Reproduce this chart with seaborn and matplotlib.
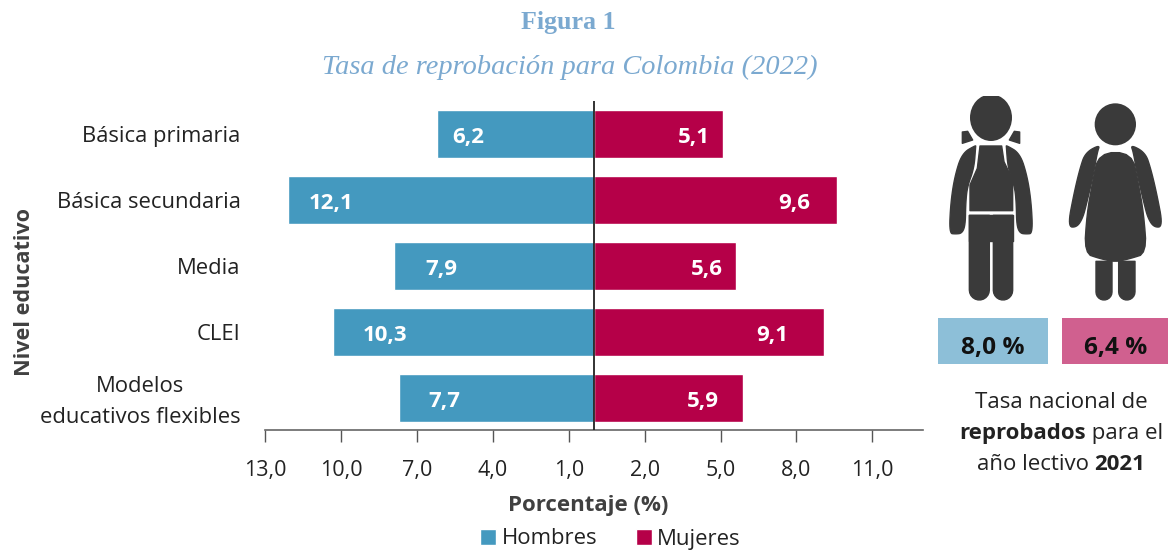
import matplotlib
matplotlib.use("Agg")
import matplotlib.pyplot as plt
import numpy as np
import pandas as pd
import seaborn as sns
from matplotlib.patches import Ellipse, PathPatch, Rectangle
from matplotlib.path import Path
from matplotlib.transforms import ScaledTranslation

niveles = ["Básica primaria", "Básica secundaria", "Media", "CLEI", "Modelos\neducativos flexibles"]
hombres = [6.2, 12.1, 7.9, 10.3, 7.7]
mujeres = [5.1, 9.6, 5.6, 9.1, 5.9]
tick_vals = [-13, -10, -7, -4, -1, 2, 5, 8, 11]
tick_labels = ["13,0", "10,0", "7,0", "4,0", "1,0", "2,0", "5,0", "8,0", "11,0"]
nacional = ["8,0 %", "6,4 %"]

# distance of each value label from the bar end, in data units
offset_h = [1.22, 1.70, 1.86, 2.05, 1.78]
offset_m = [1.15, 1.70, 1.15, 2.05, 1.58]

AZUL, ROJO = "#4499BF", "#B50048"
W, H = 1168, 550
SANS = "Open Sans"

sns.set_theme(style="white")
plt.rcParams["font.family"] = [SANS, "DejaVu Sans"]

df = pd.DataFrame({
    "Nivel": niveles * 2,
    "Valor": [-v for v in hombres] + mujeres,
    "Sexo": ["Hombres"] * 5 + ["Mujeres"] * 5,
})

fig = plt.figure(figsize=(W / 100, H / 100), dpi=100, facecolor="white")
ax = fig.add_axes([265 / W, 1 - 430 / H, (923 - 265) / W, (430 - 101) / H])
sns.barplot(data=df, x="Valor", y="Nivel", hue="Sexo", order=niveles,
            hue_order=["Hombres", "Mujeres"], palette=[AZUL, ROJO], dodge=False,
            width=0.72, saturation=1, orient="y", ax=ax, legend=True)

ax.set_xlim(-13, 13)
ax.set_ylim(4.485, -0.5)
ax.set_xticks(tick_vals, tick_labels)
ax.tick_params(axis="x", length=8.5, width=1.0, color="#555555", labelsize=15.5,
               labelcolor="#222222", pad=13, bottom=True)
ax.tick_params(axis="y", length=0, labelsize=15.8, labelcolor="#222222", pad=17.5)
for lab in ax.get_yticklabels():
    lab.set_multialignment("center")
    lab.set_linespacing(1.6)
last = ax.get_yticklabels()[-1]
last.set_transform(last.get_transform() + ScaledTranslation(0, 3 / 100, fig.dpi_scale_trans))
sns.despine(ax=ax, left=True)
ax.spines["bottom"].set_color("#666666")
ax.spines["bottom"].set_linewidth(1.2)
ax.axvline(0, color="#222222", lw=1.3, zorder=5)
ax.set_xlabel("")
ax.set_ylabel("")

for i in range(len(niveles)):
    ax.text(-hombres[i] + offset_h[i], i + 0.05, f"{hombres[i]:.1f}".replace(".", ","), color="white",
            ha="center", va="center", fontsize=16, fontweight="bold")
    ax.text(mujeres[i] - offset_m[i], i + 0.05, f"{mujeres[i]:.1f}".replace(".", ","), color="white",
            ha="center", va="center", fontsize=16, fontweight="bold")

handles, labels = ax.get_legend_handles_labels()
ax.legend(handles, labels, ncol=2, loc="center", bbox_to_anchor=(610.5 / W, 1 - 539 / H),
          bbox_transform=fig.transFigure, frameon=False, fontsize=15.9, handlelength=0.72,
          handleheight=0.72, handletextpad=0.25, columnspacing=1.75, labelcolor="#222222",
          borderpad=0, borderaxespad=0)

# overlay in pixel coordinates for titles, side panel and pictograms
ov = fig.add_axes([0, 0, 1, 1], zorder=10)
ov.set_xlim(0, W)
ov.set_ylim(H, 0)
ov.axis("off")
ov.patch.set_alpha(0)

ov.text(568, 23, "Figura 1", ha="center", va="center", family="Liberation Serif",
        fontweight="bold", fontsize=18.7, color="#7BA9D0")
ov.text(570, 67, "Tasa de reprobación para Colombia (2022)", ha="center", va="center",
        family="Liberation Serif", style="italic", fontsize=20.4, color="#7BA9D0")
ov.text(588, 505, "Porcentaje (%)", ha="center", va="center", fontweight="bold",
        fontsize=16, color="#404040")
ov.text(25, 292, "Nivel educativo", ha="center", va="center", rotation=90, fontweight="bold",
        fontsize=15.6, color="#404040")

ov.add_patch(Rectangle((938, 318), 110, 46, fc="#8DBFD8", ec="none"))
ov.add_patch(Rectangle((1062, 318), 106, 46, fc="#D0608F", ec="none"))
ov.text(993, 348, nacional[0], ha="center", va="center", fontweight="bold", fontsize=17.6, color="#111111")
ov.text(1116, 348, nacional[1], ha="center", va="center", fontweight="bold", fontsize=17.6, color="#111111")


def runs(cx, y, parts):
    rend = fig.canvas.get_renderer()
    items = [ov.text(0, y, s, va="center", ha="left", fontsize=16, color="#222222",
                     fontweight=w) for s, w in parts]
    widths = [t.get_window_extent(rend).width for t in items]
    x = cx - sum(widths) / 2
    for t, wd in zip(items, widths):
        t.set_x(x)
        x += wd


runs(1061, 402, [("Tasa nacional de", "normal")])
runs(1061, 433, [("reprobados", "bold"), (" para el", "normal")])
runs(1061, 465, [("año lectivo ", "normal"), ("2021", "bold")])

GRIS = "#3A3A3A"


def rounded(points, rounds=3):
    """Corner-cutting so that a pictogram outline looks drawn, not polygonal."""
    pts = list(points)
    for _ in range(rounds):
        new = []
        for i, a in enumerate(pts):
            b = pts[(i + 1) % len(pts)]
            new.append((0.75 * a[0] + 0.25 * b[0], 0.75 * a[1] + 0.25 * b[1]))
            new.append((0.25 * a[0] + 0.75 * b[0], 0.25 * a[1] + 0.75 * b[1]))
        pts = new
    return pts


def poly(points):
    pts = [(930 + x / 3, 90 + y / 3) for x, y in points]
    return Path(pts + [pts[0]], [Path.MOVETO] + [Path.LINETO] * (len(pts) - 1) + [Path.CLOSEPOLY])


def fill(points):
    ov.add_patch(PathPatch(poly(points), fc=GRIS, ec=GRIS, lw=1.0, joinstyle="round"))


def mirrored(points, axis):
    return [(2 * axis - x, y) for x, y in points]


def leg(x0, x1, top, bottom):
    r = (x1 - x0) / 2
    cx = (x0 + x1) / 2
    arc = [(cx + r * np.cos(t), bottom - r + r * np.sin(t)) for t in np.linspace(0, np.pi, 12)]
    return [(x0, top), (x1, top)] + arc


# boy
head = Ellipse((930 + 183 / 3, 90 + 83 / 3), 126 / 3, 140 / 3, fc=GRIS, ec="none")
ov.add_patch(head)
head.set_clip_path(Rectangle((940, 96), 110, 60, transform=ov.transData))
fill([(150, 168), (215, 168), (222, 215), (248, 270), (248, 362), (120, 362), (120, 285), (142, 235)])
fill(leg(118, 178, 376, 630))
fill(leg(190, 248, 376, 630))
fill([(118, 376), (248, 376), (248, 452), (118, 452)])
boy_arm = rounded([(137, 166), (96, 190), (74, 260), (62, 340), (58, 430), (76, 432), (96, 430), (106, 405),
                   (107, 340), (112, 290), (132, 235), (137, 170)])
fill(boy_arm)
fill(mirrored(boy_arm, 183))
boy_strap = [(97, 160), (97, 126), (113, 124), (128, 150)]
fill(boy_strap)
fill(mirrored(boy_strap, 183))

# girl
ov.add_patch(Ellipse((930 + 556 / 3, 90 + 103 / 3), 124 / 3, 126 / 3, fc=GRIS, ec="none"))
fill(rounded([(506, 188), (606, 188), (625, 280), (641, 370), (650, 490), (600, 506), (556, 516), (510, 506),
              (463, 490), (471, 370), (487, 280)], 2))
fill(leg(498, 546, 514, 630))
fill(leg(566, 615, 514, 630))
girl_arm = rounded([(510, 164), (466, 188), (450, 235), (432, 310), (413, 410), (440, 412),
                    (458, 385), (470, 340), (490, 255), (502, 186)])
fill(girl_arm)
fill(mirrored(girl_arm, 556))

fig.savefig("out.png", dpi=100, facecolor="white")
